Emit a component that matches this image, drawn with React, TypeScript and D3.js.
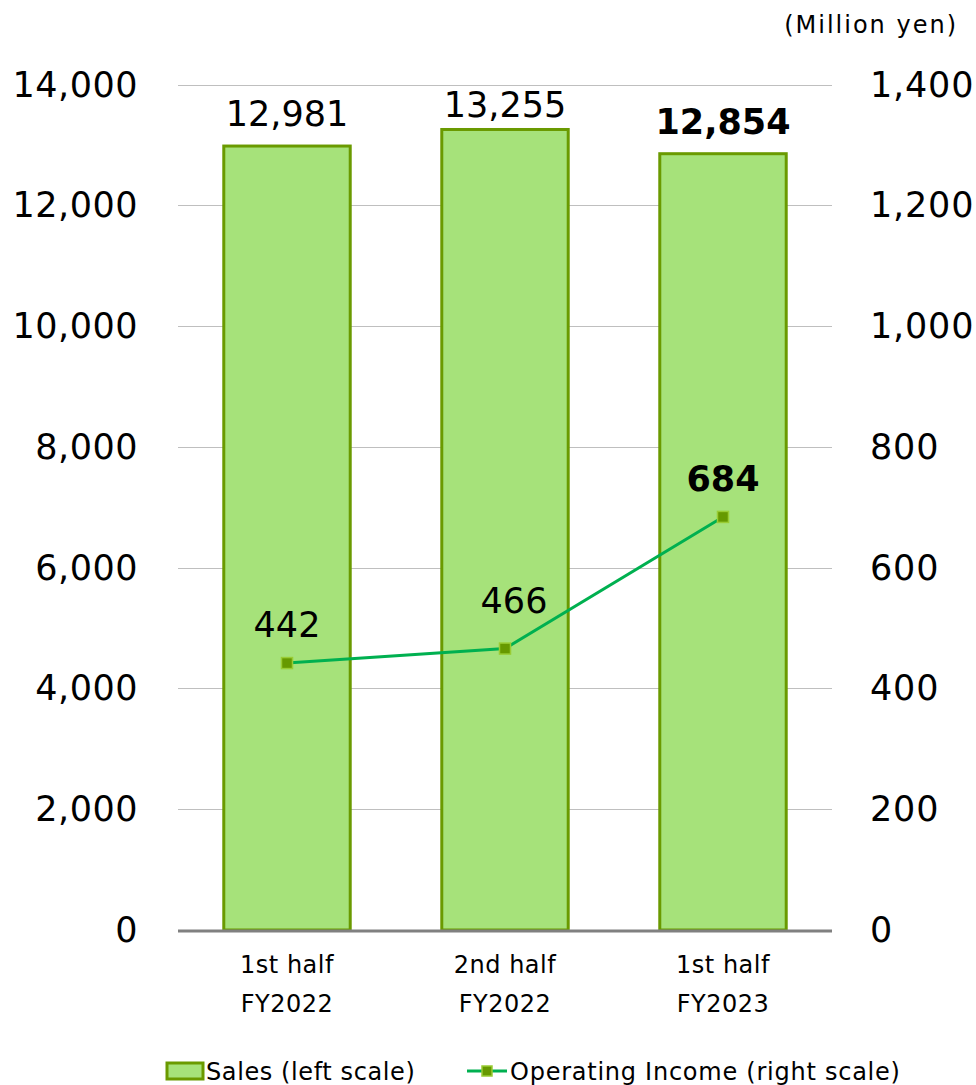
import React from "react";
import * as d3 from "d3";

const categories = [["1st half", "FY2022"], ["2nd half", "FY2022"], ["1st half", "FY2023"]];
const sales = [12981, 13255, 12854];
const operatingIncome = [442, 466, 684];
const leftTicks = [0, 2000, 4000, 6000, 8000, 10000, 12000, 14000];
const rightTicks = [0, 200, 400, 600, 800, 1000, 1200, 1400];
const boldIndex = [false, false, true];

const W = 976, H = 1085;
const M = { left: 178, right: 832, top: 84.5, bottom: 930 };
const FONT = "'DejaVu Sans', Verdana, sans-serif";

export default function App() {
  const x = d3.scaleBand<number>().domain([0, 1, 2]).range([M.left, M.right]).paddingInner(0.42).paddingOuter(0.21);
  const yL = d3.scaleLinear().domain([0, 14000]).range([M.bottom, M.top]);
  const yR = d3.scaleLinear().domain([0, 1400]).range([M.bottom, M.top]);
  const fmt = d3.format(",");
  const cx = (i: number) => (x(i) as number) + x.bandwidth() / 2;
  const line = d3.line<number>().x((_, i) => cx(i)).y((d) => yR(d));

  return (
    <svg width={W} height={H} style={{ position: "absolute", left: 0, top: 0, background: "#fff" }} fontFamily={FONT}>
      <text x={958} y={33} fontSize={24} letterSpacing={2} textAnchor="end" fill="#000">(Million yen)</text>
      {leftTicks.map((t) => (
        <g key={"g" + t}>
          {t > 0 && <line x1={M.left} x2={M.right} y1={Math.round(yL(t)) + 0.5} y2={Math.round(yL(t)) + 0.5} stroke="#bfbfbf" strokeWidth={1} />}
          <text x={138} y={yL(t) + 12} fontSize={35} letterSpacing={0.5} textAnchor="end" fill="#000">{fmt(t)}</text>
        </g>
      ))}
      {rightTicks.map((t) => (
        <text key={"r" + t} x={870} y={yR(t) + 12} fontSize={35} letterSpacing={0.8} textAnchor="start" fill="#000">{fmt(t)}</text>
      ))}
      {sales.map((v, i) => (
        <rect key={"b" + i} x={x(i)} y={yL(v)} width={x.bandwidth()} height={M.bottom - yL(v)} fill="#a6e27a" stroke="#6a9a00" strokeWidth={3} />
      ))}
      <line x1={M.left} x2={M.right} y1={M.bottom + 1} y2={M.bottom + 1} stroke="#808080" strokeWidth={3} />
      {sales.map((v, i) => (
        <text key={"sl" + i} x={cx(i)} y={yL(v) - (i === 1 ? 12 : 20)} fontSize={35} textAnchor="middle" fontWeight={boldIndex[i] ? "bold" : "normal"} fill="#000">{fmt(v)}</text>
      ))}
      <path d={line(operatingIncome) || ""} fill="none" stroke="#00b050" strokeWidth={3} />
      {operatingIncome.map((v, i) => (
        <rect key={"m" + i} x={cx(i) - 5.5} y={yR(v) - 5.5} width={11} height={11} fill="#669900" stroke="#99cc33" strokeWidth={1.5} />
      ))}
      {operatingIncome.map((v, i) => (
        <text key={"ol" + i} x={cx(i) + (i === 1 ? 9 : 0)} y={yR(v) - (i === 1 ? 36 : 26)} fontSize={35} textAnchor="middle" fontWeight={boldIndex[i] ? "bold" : "normal"} fill="#000">{fmt(v)}</text>
      ))}
      {categories.map((c, i) => (
        <g key={"c" + i}>
          <text x={cx(i)} y={973} fontSize={24} letterSpacing={0.5} textAnchor="middle" fill="#000">{c[0]}</text>
          <text x={cx(i)} y={1012} fontSize={24} letterSpacing={0.5} textAnchor="middle" fill="#000">{c[1]}</text>
        </g>
      ))}
      <rect x={167} y={1063} width={36} height={16} fill="#a6e27a" stroke="#6a9a00" strokeWidth={3} />
      <text x={206} y={1080} fontSize={24} letterSpacing={0.6} fill="#000">Sales (left scale)</text>
      <line x1={467} x2={507} y1={1071} y2={1071} stroke="#00b050" strokeWidth={3} />
      <rect x={482} y={1066} width={10} height={10} fill="#669900" stroke="#99cc33" strokeWidth={1.5} />
      <text x={510} y={1080} fontSize={24} letterSpacing={0.75} fill="#000">Operating Income (right scale)</text>
    </svg>
  );
}
